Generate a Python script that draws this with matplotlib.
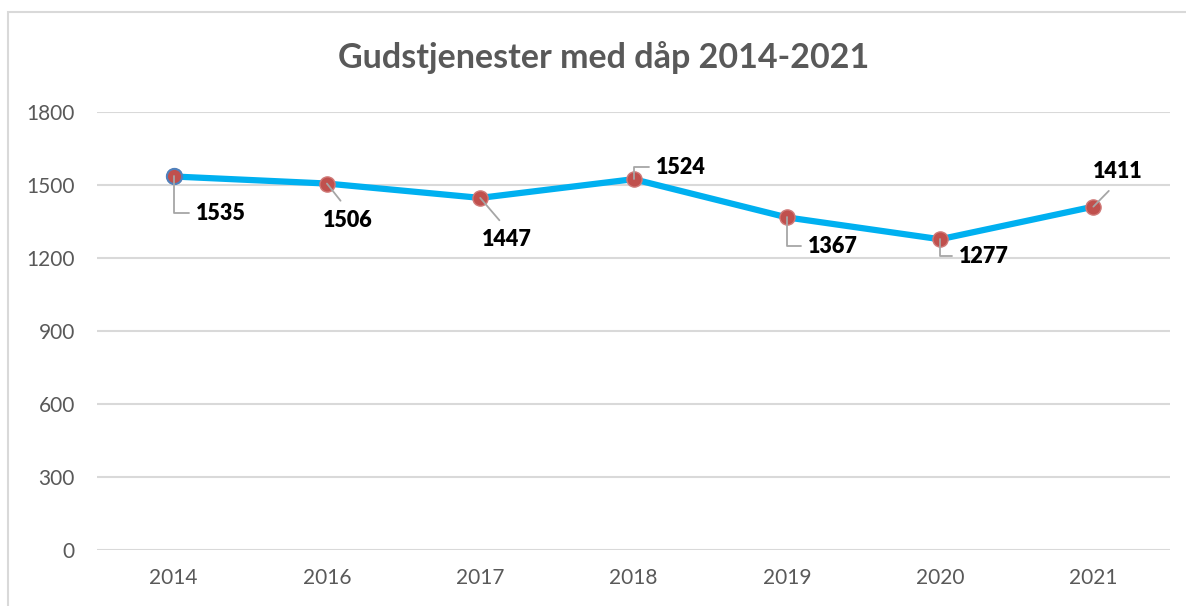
import matplotlib.pyplot as plt
from matplotlib.patches import Rectangle

plt.rcParams['font.family'] = ['Lato', 'DejaVu Sans']

years = ['2014', '2016', '2017', '2018', '2019', '2020', '2021']
services = [1535, 1506, 1447, 1524, 1367, 1277, 1411]
y_ticks = [0, 300, 600, 900, 1200, 1500, 1800]

# label offsets (pixels) and leader style per point
label_offsets = [(47, -37), (21, -37), (27, -42), (47, 12), (46, -29), (44, -17), (24, 35)]
leader_kind = ['L', 'diag', 'diag', 'L', 'L', 'L', 'diag']

fig = plt.figure(figsize=(11.86, 6.06), dpi=100)
fig.patches.append(Rectangle((8 / 1186, -0.1), 1.2, 1 - 12 / 606 + 0.1, transform=fig.transFigure,
                             fill=False, edgecolor='#D9D9D9', linewidth=1.5))
ax = fig.add_axes([97 / 1186, 1 - 550 / 606, (1170 - 97) / 1186, (550 - 112) / 606])

x = list(range(len(years)))
ax.plot(x, services, color='#00B0F0', linewidth=4.5, zorder=3)
ax.scatter(x, services, s=120, color='#C0504D', edgecolors='#D07A78', linewidths=1, zorder=4)
ax.scatter(x[:1], services[:1], s=120, color='#C0504D', edgecolors='#4F81BD', linewidths=1.5, zorder=5)

for xi, v, off, kind in zip(x, services, label_offsets, leader_kind):
    if kind == 'L':
        arrow = dict(arrowstyle='-', color='#A6A6A6', lw=1.3, shrinkA=3, shrinkB=0,
                     relpos=(0, 0.5), connectionstyle='angle,angleA=0,angleB=90,rad=0')
    else:
        arrow = dict(arrowstyle='-', color='#A6A6A6', lw=1.3, shrinkA=6, shrinkB=0,
                     relpos=(0.5, 1.0 if off[1] < 0 else 0.0))
    ax.annotate(str(v), xy=(xi, v), xytext=off, textcoords='offset pixels',
                ha='center', va='center', fontsize=15.5, fontweight='heavy', color='black',
                arrowprops=arrow, zorder=6)

ax.set_xlim(-0.5, len(years) - 0.5)
ax.set_ylim(0, 1800)
ax.set_xticks(x)
ax.set_xticklabels(years)
ax.set_yticks(y_ticks)
ax.tick_params(length=0, labelsize=15, labelcolor='#595959')
ax.tick_params(axis='x', pad=13)
ax.tick_params(axis='y', pad=16)
ax.grid(axis='y', color='#D9D9D9', linewidth=1.5)
ax.set_axisbelow(True)
for s in ax.spines.values():
    s.set_visible(False)

fig.text(604 / 1186, 1 - 58 / 606, 'Gudstjenester med dåp 2014-2021', ha='center', va='center',
         fontsize=24.5, fontweight='bold', color='#595959')

fig.savefig('out.png', dpi=100)
